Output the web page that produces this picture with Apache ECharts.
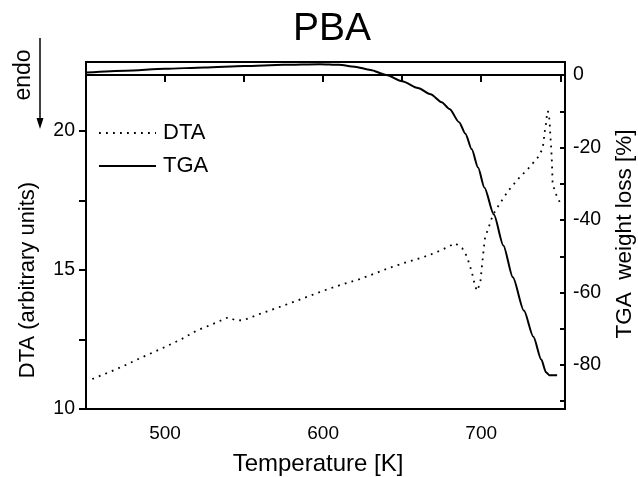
<!DOCTYPE html>
<html>
<head>
<meta charset="utf-8">
<script src="https://cdn.jsdelivr.net/npm/echarts@6/dist/echarts.min.js"></script>
<style>html,body{margin:0;padding:0;background:#fff}#c{width:638px;height:477px}</style>
</head>
<body>
<div id="c"></div>
<script>
// ---- data ----
const chartTitle = 'PBA';
const seriesNames = ['DTA', 'TGA'];

// TGA: temperature [K] and weight loss [%]
const tgaTemp = [450, 475, 500, 525, 550, 575, 598, 610, 620, 630, 640, 650, 660, 668, 675, 680, 686, 690, 694, 698, 702, 708, 714, 720, 727, 733, 738, 741, 743, 748];
const tgaLoss = [0.7, 1.2, 1.7, 2.1, 2.5, 2.8, 3.0, 2.8, 2.3, 1.4, 0.0, -1.7, -3.6, -5.3, -7.5, -9.4, -13.0, -16.2, -20.5, -25.5, -31.0, -38.5, -47.0, -55.8, -65.0, -72.2, -78.5, -82.0, -82.8, -82.8];

// DTA: temperature [K] and signal (arbitrary units)
const dtaTemp = [454, 465, 475, 485, 497, 510, 520, 530, 540, 545, 550, 560, 573, 586, 600, 612, 623, 633, 642, 655, 666, 675, 683.5, 688, 691, 694, 696, 697.3, 699.4, 700.4, 701.5, 702.5, 704.6, 706, 708, 711, 714, 717, 720.5, 724.7, 729, 732.7, 736.3, 738.4, 739.4, 740, 740.9, 741.6, 742.2, 743.2, 743.7, 744.3, 744.8, 745.2, 746, 747.5, 750];
const dtaSignal = [11.08, 11.33, 11.58, 11.85, 12.15, 12.5, 12.82, 13.05, 13.3, 13.18, 13.2, 13.42, 13.68, 13.95, 14.25, 14.48, 14.67, 14.88, 15.08, 15.32, 15.51, 15.72, 15.96, 15.78, 15.48, 14.94, 14.45, 14.25, 14.52, 15.1, 15.72, 16.2, 16.5, 16.77, 17.04, 17.32, 17.58, 17.84, 18.08, 18.36, 18.6, 18.84, 19.08, 19.32, 19.56, 19.92, 20.22, 20.6, 20.72, 20.4, 19.86, 19.38, 18.78, 18.06, 17.95, 17.7, 17.4];

// axes
const xRange = [450, 753];
const xTickValues = [500, 550, 600, 650, 700, 750];
const xLabelValues = [500, 600, 700];
const dtaRange = [10, 22.48];
const dtaTickValues = [10, 12.5, 15, 17.5, 20];
const dtaLabelValues = [10, 15, 20];
const tgaRange = [-92.14, 3.59];
const tgaTickValues = [0, -10, -20, -30, -40, -50, -60, -70, -80, -90];
const tgaLabelValues = [0, -20, -40, -60, -80];

const xName = 'Temperature [K]';
const dtaName = 'DTA (arbitrary units)';
const tgaName = 'TGA  weight loss [%]';
const endoText = 'endo';

// ---- chart ----
const FONT = '"Liberation Sans", Arial, Helvetica, sans-serif';
const chart = echarts.init(document.getElementById('c'), null, {renderer: 'canvas'});

const tgaData = tgaTemp.map((t, i) => [t, tgaLoss[i]]);
const dtaData = dtaTemp.map((t, i) => [t, dtaSignal[i]]);

chart.setOption({
  animation: false,
  backgroundColor: '#fff',
  textStyle: {fontFamily: FONT, color: '#000'},
  title: {
    text: chartTitle, left: 327, top: 5, textAlign: 'center',
    textStyle: {fontFamily: FONT, fontSize: 39, fontWeight: 'normal', color: '#000'}
  },
  grid: {left: 86, right: 73, top: 62, bottom: 68, show: true, borderColor: '#000', borderWidth: 2, backgroundColor: 'transparent'},
  legend: {
    data: seriesNames, orient: 'vertical', left: 98, top: 122, padding: 0,
    itemWidth: 57, itemHeight: 14, itemGap: 11,
    itemStyle: {opacity: 0},
    textStyle: {fontFamily: FONT, fontSize: 22, color: '#000', lineHeight: 22, padding: [0, 0, 0, 2]},
    selectedMode: false
  },
  xAxis: {
    type: 'value', min: xRange[0], max: xRange[1],
    axisLine: {show: true, lineStyle: {color: '#000', width: 2}},
    axisTick: {show: true, inside: false, length: 7, customValues: xTickValues, lineStyle: {color: '#000', width: 2}},
    axisLabel: {customValues: xLabelValues, fontFamily: FONT, fontSize: 19, color: '#000', margin: 15},
    splitLine: {show: false}
  },
  yAxis: [{
    type: 'value', min: dtaRange[0], max: dtaRange[1], position: 'left',
    axisLine: {show: true, lineStyle: {color: '#000', width: 2}},
    axisTick: {show: true, inside: false, length: 7, customValues: dtaTickValues, lineStyle: {color: '#000', width: 2}},
    axisLabel: {customValues: dtaLabelValues, fontFamily: FONT, fontSize: 19.5, color: '#000', margin: 11},
    splitLine: {show: false}
  }, {
    type: 'value', min: tgaRange[0], max: tgaRange[1], position: 'right',
    axisLine: {show: true, lineStyle: {color: '#000', width: 2}},
    axisTick: {show: true, inside: true, length: 5, customValues: tgaTickValues, lineStyle: {color: '#000', width: 2}},
    axisLabel: {customValues: tgaLabelValues, fontFamily: FONT, fontSize: 19.5, color: '#000', margin: 8},
    splitLine: {show: false}
  }],
  series: [{
    name: seriesNames[0], type: 'line', yAxisIndex: 0, data: dtaData,
    symbol: 'none', showSymbol: false,
    lineStyle: {color: '#000', width: 1.8, type: [1.8, 5.2]},
    itemStyle: {color: '#000'}
  }, {
    name: seriesNames[1], type: 'line', yAxisIndex: 1, data: tgaData,
    symbol: 'none', showSymbol: false, smooth: 0.25, smoothMonotone: 'x',
    lineStyle: {color: '#000', width: 2},
    itemStyle: {color: '#000'}
  }],
  graphic: [
    {type: 'text', x: 318, y: 464,
     style: {text: xName, font: '24px ' + FONT, fill: '#000', align: 'center', verticalAlign: 'middle'}},
    {type: 'text', x: 28, y: 280, rotation: Math.PI / 2,
     style: {text: dtaName, font: '22px ' + FONT, fill: '#000', align: 'center', verticalAlign: 'middle'}},
    {type: 'text', x: 625, y: 234, rotation: Math.PI / 2,
     style: {text: tgaName, font: '22.5px ' + FONT, fill: '#000', align: 'center', verticalAlign: 'middle'}},
    {type: 'text', x: 24, y: 75, rotation: Math.PI / 2,
     style: {text: endoText, font: '23px ' + FONT, fill: '#000', align: 'center', verticalAlign: 'middle'}},
    {type: 'line', shape: {x1: 40, y1: 38, x2: 40, y2: 120}, style: {stroke: '#000', lineWidth: 1.5}},
    {type: 'polygon', shape: {points: [[36.5, 118], [43.5, 118], [40, 129]]}, style: {fill: '#000'}}
  ]
});
</script>
</body>
</html>
